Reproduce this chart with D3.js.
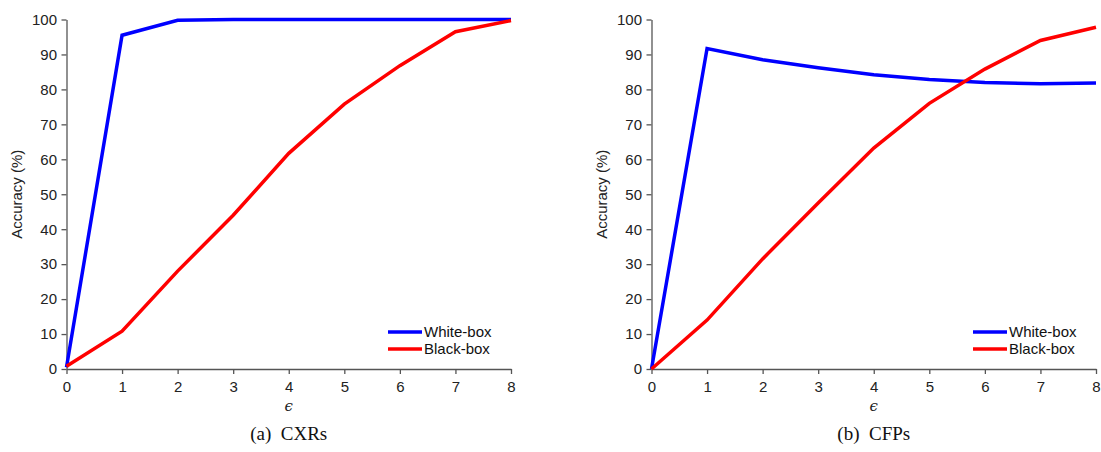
<!DOCTYPE html>
<html><head><meta charset="utf-8">
<script src="https://cdn.jsdelivr.net/npm/d3@7"></script>
<style>body{margin:0;background:#fff}svg{display:block}</style>
</head><body>
<svg id="c" width="1101" height="452"></svg>
<script>
const eps = [0,1,2,3,4,5,6,7,8];
const yTicks = [0,10,20,30,40,50,60,70,80,90,100];
const seriesNames = ["White-box","Black-box"];
const colors = ["#0000ff","#ff0000"];
const cxrWhite = [0.5,95.5,99.8,100,100,100,100,100,100];
const cxrBlack = [0.8,10.8,28,44,61.7,75.8,86.8,96.5,99.7];
const cfpWhite = [0,91.7,88.5,86.2,84.2,82.8,82.0,81.6,81.8];
const cfpBlack = [0,14,31.5,47.5,63.2,76,85.8,94,97.8];
const captions = ["(a)  CXRs","(b)  CFPs"];

const svg = d3.select("#c");
const panels = [
  {x0:66.5, x1:511, series:[cxrWhite,cxrBlack], cap:captions[0]},
  {x0:651.5, x1:1096, series:[cfpWhite,cfpBlack], cap:captions[1]}
];
const yTop = 19.5, yBot = 369;
panels.forEach(p => {
  const x = d3.scaleLinear().domain([0,8]).range([p.x0,p.x1]);
  const y = d3.scaleLinear().domain([0,100]).range([yBot,yTop]);
  const g = svg.append("g");
  const xa = g.append("g").attr("transform",`translate(0,${yBot})`)
    .call(d3.axisBottom(x).tickValues(eps).tickFormat(d3.format("d")).tickSize(5).tickSizeOuter(0));
  const ya = g.append("g").attr("transform",`translate(${p.x0},0)`)
    .call(d3.axisLeft(y).tickValues(yTicks).tickSize(5).tickSizeOuter(0));
  [xa,ya].forEach(a=>{
    a.selectAll("path,line").attr("stroke","#555").attr("stroke-width",1.3);
    a.selectAll("text").attr("fill","#222").style("font-family","'Liberation Sans', Arial, sans-serif").style("font-size","15px");
  });
  xa.selectAll("text").attr("dy","1.0em");
  ya.selectAll("text").attr("dx","-0.1em");
  const line = d3.line().x((d,i)=>x(eps[i])).y(d=>y(d));
  p.series.forEach((s,k)=>{
    g.append("path").datum(s).attr("d",line).attr("fill","none")
      .attr("stroke",colors[k]).attr("stroke-width",3.5).attr("stroke-linejoin","miter");
  });
  const lx = p.x1 - 123, ly = 332;
  seriesNames.forEach((n,k)=>{
    g.append("line").attr("x1",lx).attr("x2",lx+34).attr("y1",ly+k*17).attr("y2",ly+k*17)
      .attr("stroke",colors[k]).attr("stroke-width",3.5);
    g.append("text").attr("x",lx+36).attr("y",ly+k*17+5).text(n)
      .style("font-family","'Liberation Sans', Arial, sans-serif").style("font-size","15px").attr("fill","#111");
  });
  const cx = (p.x0+p.x1)/2;
  g.append("text").attr("x",cx).attr("y",411).attr("text-anchor","middle").text("ϵ")
    .style("font-family","'DejaVu Serif', serif").style("font-style","italic").style("font-size","15px").attr("fill","#222");
  g.append("text").attr("transform",`translate(${p.x0-45},${(yTop+yBot)/2}) rotate(-90)`)
    .attr("text-anchor","middle").text("Accuracy (%)")
    .style("font-family","'Liberation Sans', Arial, sans-serif").style("font-size","15px").attr("fill","#222");
  g.append("text").attr("x",cx).attr("y",440).attr("text-anchor","middle").text(p.cap)
    .style("white-space","pre")
    .style("font-family","'Liberation Serif', 'DejaVu Serif', serif").style("font-size","19px").attr("fill","#111");
});
</script>
</body></html>
